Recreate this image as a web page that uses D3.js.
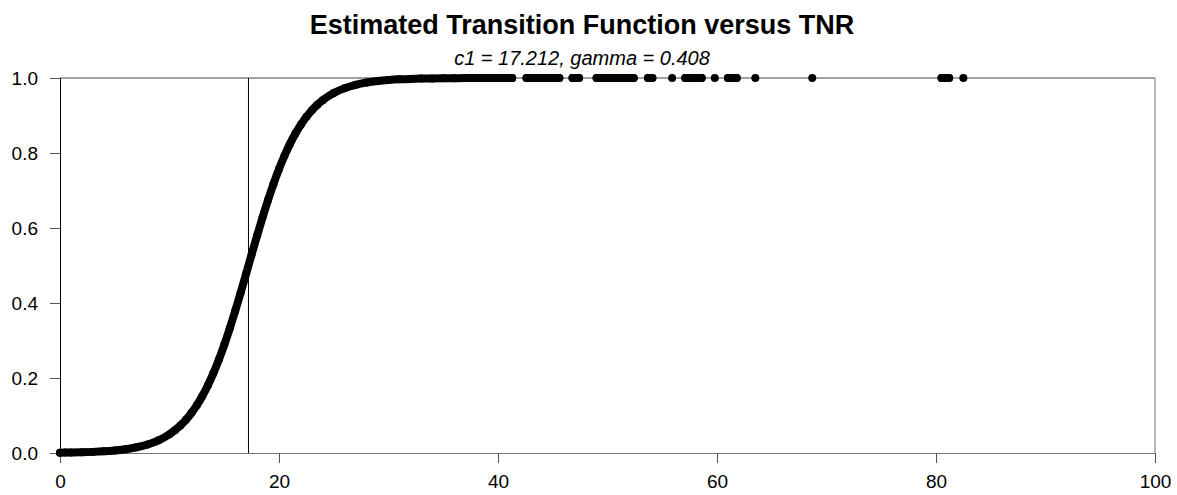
<!DOCTYPE html>
<html>
<head>
<meta charset="utf-8">
<script src="https://cdn.jsdelivr.net/npm/d3@7"></script>
<style>
  body { margin: 0; background: #fff; }
  text { font-family: Arial, "Liberation Sans", sans-serif; }
</style>
</head>
<body>
<script>

  // estimated transition function
  var tnr = [0, 0.5, 1, 2, 3, 4, 5, 6, 7, 8, 9, 10, 10.5, 11, 11.5, 12, 12.5, 13, 13.5, 14,
    14.5, 15, 15.5, 16, 16.5, 17, 17.5, 18, 18.5, 19, 19.5, 20, 20.5, 21, 21.5, 22, 22.5, 23,
    23.5, 24, 25, 26, 27, 28, 29, 30, 31, 32, 33, 34, 35, 36, 37, 38, 39, 40, 40.7, 41.3,
    42.6, 43.2, 43.9, 44.5, 45.1, 45.6, 46.8, 47.1, 47.4, 49.0, 49.6, 50.2, 50.8, 51.4,
    52.4, 53.7, 54.1, 55.9, 57.1, 57.8, 58.6, 59.8, 61.0, 61.5, 61.8, 63.5, 68.7, 80.5, 81.2, 82.5];

  var transition = [0.0009, 0.0011, 0.0013, 0.0020, 0.0030, 0.0045, 0.0068, 0.0102, 0.0153, 0.0228,
    0.0339, 0.0501, 0.0607, 0.0735, 0.0886, 0.1066, 0.1276, 0.1521, 0.1803, 0.2124,
    0.2485, 0.2885, 0.3321, 0.3788, 0.4279, 0.4784, 0.5293, 0.5797, 0.6284, 0.6747,
    0.7178, 0.7572, 0.7927, 0.8243, 0.8519, 0.8758, 0.8964, 0.9138, 0.9286, 0.9410,
    0.9600, 0.9730, 0.9819, 0.9879, 0.9919, 0.9946, 0.9964, 0.9976, 0.9984, 0.9989,
    0.9993, 0.9995, 0.9997, 0.9998, 0.9999, 0.9999, 1.0, 1.0,
    1.0, 1.0, 1.0, 1.0, 1.0, 1.0, 1.0, 1.0, 1.0, 1.0, 1.0, 1.0, 1.0, 1.0,
    1.0, 1.0, 1.0, 1.0, 1.0, 1.0, 1.0, 1.0, 1.0, 1.0, 1.0, 1.0, 1.0, 1.0, 1.0, 1.0];

  var c1 = 17.212;
  var gamma = 0.408;

  var xTicks = [0, 20, 40, 60, 80, 100];
  var yTicks = [0, 0.2, 0.4, 0.6, 0.8, 1.0];

  var width = 1177, height = 495;
  var plotLeft = 60, plotRight = 1155, plotTop = 78, plotBottom = 453;

  var svg = d3.select("body").append("svg")
      .attr("width", width)
      .attr("height", height);

  var x = d3.scaleLinear().domain([0, 100]).range([plotLeft, plotRight]);
  var y = d3.scaleLinear().domain([0, 1]).range([plotBottom, plotTop]);

  var data = tnr.map(function(d, i) { return {x: d, y: transition[i]}; });

  // title
  svg.append("text")
    .attr("x", 582).attr("y", 34)
    .attr("text-anchor", "middle")
    .style("font-size", "27px").style("font-weight", "bold")
    .text("Estimated Transition Function versus TNR");

  svg.append("text")
    .attr("x", 582).attr("y", 65)
    .attr("text-anchor", "middle")
    .style("font-size", "20px").style("font-style", "italic")
    .text("c1 = " + c1.toFixed(3) + ", gamma = " + gamma.toFixed(3));

  // frame
  svg.append("line")
    .attr("x1", plotLeft).attr("x2", plotRight).attr("y1", plotTop).attr("y2", plotTop)
    .attr("stroke", "#444");
  svg.append("line")
    .attr("x1", plotRight).attr("x2", plotRight).attr("y1", plotTop).attr("y2", plotBottom)
    .attr("stroke", "#777");

  // axes
  var xAxis = svg.append("g")
    .attr("transform", "translate(0," + plotBottom + ")")
    .call(d3.axisBottom(x).tickValues(xTicks).tickSize(10).tickPadding(12).tickFormat(d3.format("d")));
  xAxis.select(".domain").attr("stroke", "#777");
  xAxis.selectAll(".tick line").attr("stroke", "#555");
  xAxis.selectAll("text").style("font-size", "19px").attr("fill", "#000");

  var yAxis = svg.append("g")
    .attr("transform", "translate(" + plotLeft + ",0)")
    .call(d3.axisLeft(y).tickValues(yTicks).tickSize(10).tickPadding(12).tickFormat(d3.format(".1f")));
  yAxis.select(".domain").attr("stroke", "#000");
  yAxis.selectAll(".tick line").attr("stroke", "#555");
  yAxis.selectAll("text").style("font-size", "19px").attr("fill", "#000");

  // location parameter
  svg.append("line")
    .attr("x1", x(c1)).attr("x2", x(c1))
    .attr("y1", plotTop).attr("y2", plotBottom)
    .attr("stroke", "#000");

  // group observations lying close together so the dense stretches read as one band
  var runs = [];
  data.forEach(function(d, i) {
    if (i === 0 || d.x - data[i - 1].x > 1.05) runs.push([]);
    runs[runs.length - 1].push(d);
  });

  var line = d3.line()
    .x(function(d) { return x(d.x); })
    .y(function(d) { return y(d.y); })
    .curve(d3.curveMonotoneX);

  svg.selectAll("path.run")
    .data(runs.filter(function(r) { return r.length > 1; }))
    .enter().append("path")
    .attr("class", "run")
    .attr("d", line)
    .attr("fill", "none")
    .attr("stroke", "#000")
    .attr("stroke-width", 8)
    .attr("stroke-linecap", "round");

  svg.selectAll("circle")
    .data(data)
    .enter().append("circle")
    .attr("cx", function(d) { return x(d.x); })
    .attr("cy", function(d) { return y(d.y); })
    .attr("r", 4)
    .attr("fill", "#000");

</script>
</body>
</html>
